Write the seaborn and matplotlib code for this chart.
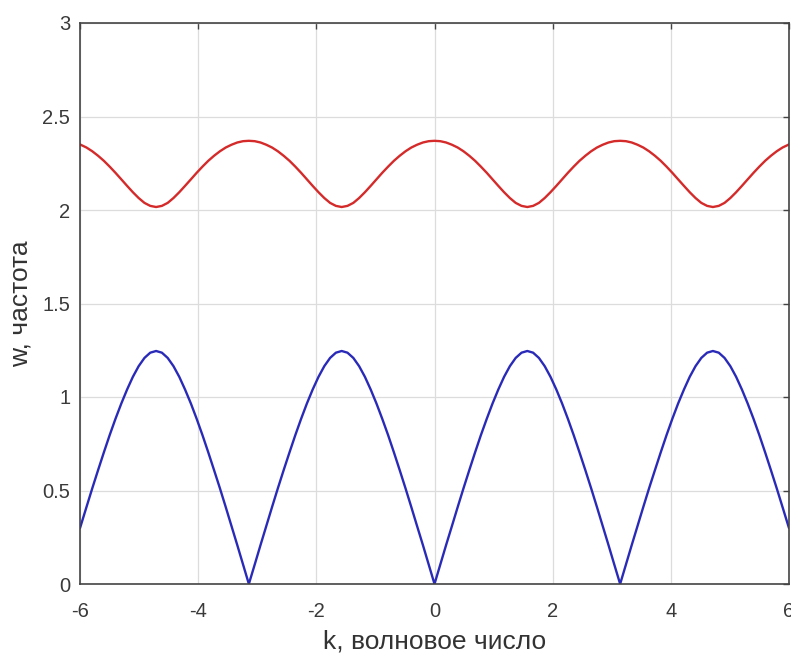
import matplotlib
matplotlib.use("Agg")
import matplotlib.pyplot as plt
import seaborn as sns
import pandas as pd

# wave number samples (step pi/32, plus the window edges at +-6)
k_values = [
    -6.000,
    -5.989, -5.890, -5.792, -5.694, -5.596, -5.498, -5.400, -5.301, -5.203, -5.105,
    -5.007, -4.909, -4.811, -4.712, -4.614, -4.516, -4.418, -4.320, -4.222, -4.123,
    -4.025, -3.927, -3.829, -3.731, -3.632, -3.534, -3.436, -3.338, -3.240, -3.142,
    -3.043, -2.945, -2.847, -2.749, -2.651, -2.553, -2.454, -2.356, -2.258, -2.160,
    -2.062, -1.963, -1.865, -1.767, -1.669, -1.571, -1.473, -1.374, -1.276, -1.178,
    -1.080, -0.982, -0.884, -0.785, -0.687, -0.589, -0.491, -0.393, -0.295, -0.196,
    -0.098,
    0.000,
    0.098, 0.196, 0.295, 0.393, 0.491, 0.589, 0.687, 0.785, 0.884, 0.982,
    1.080, 1.178, 1.276, 1.374, 1.473, 1.571, 1.669, 1.767, 1.865, 1.963,
    2.062, 2.160, 2.258, 2.356, 2.454, 2.553, 2.651, 2.749, 2.847, 2.945,
    3.043, 3.142, 3.240, 3.338, 3.436, 3.534, 3.632, 3.731, 3.829, 3.927,
    4.025, 4.123, 4.222, 4.320, 4.418, 4.516, 4.614, 4.712, 4.811, 4.909,
    5.007, 5.105, 5.203, 5.301, 5.400, 5.498, 5.596, 5.694, 5.792, 5.890,
    5.989,
    6.000,
]

# acoustic branch, w(k)
w_acoustic = [
    0.299,
    0.310, 0.412, 0.512, 0.609, 0.704, 0.796, 0.883, 0.965, 1.040, 1.108,
    1.165, 1.209, 1.237, 1.246, 1.237, 1.209, 1.165, 1.108, 1.040, 0.965,
    0.883, 0.796, 0.704, 0.609, 0.512, 0.412, 0.310, 0.208, 0.104, 0.000,
    0.104, 0.208, 0.310, 0.412, 0.512, 0.609, 0.704, 0.796, 0.883, 0.965,
    1.040, 1.108, 1.165, 1.209, 1.237, 1.246, 1.237, 1.209, 1.165, 1.108,
    1.040, 0.965, 0.883, 0.796, 0.704, 0.609, 0.512, 0.412, 0.310, 0.208,
    0.104,
    0.000,
    0.104, 0.208, 0.310, 0.412, 0.512, 0.609, 0.704, 0.796, 0.883, 0.965,
    1.040, 1.108, 1.165, 1.209, 1.237, 1.246, 1.237, 1.209, 1.165, 1.108,
    1.040, 0.965, 0.883, 0.796, 0.704, 0.609, 0.512, 0.412, 0.310, 0.208,
    0.104, 0.000, 0.104, 0.208, 0.310, 0.412, 0.512, 0.609, 0.704, 0.796,
    0.883, 0.965, 1.040, 1.108, 1.165, 1.209, 1.237, 1.246, 1.237, 1.209,
    1.165, 1.108, 1.040, 0.965, 0.883, 0.796, 0.704, 0.609, 0.512, 0.412,
    0.310,
    0.299,
]

# optical branch, w(k)
w_optical = [
    2.351,
    2.349, 2.334, 2.314, 2.290, 2.263, 2.232, 2.199, 2.164, 2.129, 2.095,
    2.064, 2.038, 2.022, 2.016, 2.022, 2.038, 2.064, 2.095, 2.129, 2.164,
    2.199, 2.232, 2.263, 2.290, 2.314, 2.334, 2.349, 2.361, 2.368, 2.370,
    2.368, 2.361, 2.349, 2.334, 2.314, 2.290, 2.263, 2.232, 2.199, 2.164,
    2.129, 2.095, 2.064, 2.038, 2.022, 2.016, 2.022, 2.038, 2.064, 2.095,
    2.129, 2.164, 2.199, 2.232, 2.263, 2.290, 2.314, 2.334, 2.349, 2.361,
    2.368,
    2.370,
    2.368, 2.361, 2.349, 2.334, 2.314, 2.290, 2.263, 2.232, 2.199, 2.164,
    2.129, 2.095, 2.064, 2.038, 2.022, 2.016, 2.022, 2.038, 2.064, 2.095,
    2.129, 2.164, 2.199, 2.232, 2.263, 2.290, 2.314, 2.334, 2.349, 2.361,
    2.368, 2.370, 2.368, 2.361, 2.349, 2.334, 2.314, 2.290, 2.263, 2.232,
    2.199, 2.164, 2.129, 2.095, 2.064, 2.038, 2.022, 2.016, 2.022, 2.038,
    2.064, 2.095, 2.129, 2.164, 2.199, 2.232, 2.263, 2.290, 2.314, 2.334,
    2.349,
    2.351,
]

x_ticks = [-6, -4, -2, 0, 2, 4, 6]
y_ticks = [0, 0.5, 1, 1.5, 2, 2.5, 3]
y_ticklabels = ["0", "0.5", "1", "1.5", "2", "2.5", "3"]

sns.set_style("white")
plt.rcParams["font.family"] = ["Liberation Sans", "DejaVu Sans"]

df = pd.DataFrame({"k": k_values, "acoustic": w_acoustic, "optical": w_optical})

fig = plt.figure(figsize=(7.91, 6.55), dpi=100)
ax = fig.add_axes([80 / 791, 71 / 655, 709 / 791, 561 / 655])

sns.lineplot(data=df, x="k", y="optical", ax=ax, color="#d42a2a", linewidth=1.7)
sns.lineplot(data=df, x="k", y="acoustic", ax=ax, color="#2a2ab8", linewidth=1.7)

ax.set_xlim(-6, 6)
ax.set_ylim(0, 3)
ax.set_xticks(x_ticks)
ax.set_xticklabels([str(t) for t in x_ticks])
ax.set_yticks(y_ticks)
ax.set_yticklabels(y_ticklabels)

ax.grid(True, color="#dcdcdc", linewidth=0.9)
ax.set_axisbelow(True)
for side in ["top", "right", "bottom", "left"]:
    ax.spines[side].set_visible(True)
    ax.spines[side].set_color("#444444")
    ax.spines[side].set_linewidth(1.2)

ax.tick_params(direction="in", length=4, width=1, colors="#444444",
               labelsize=14.5, labelcolor="#3a3a3a",
               top=True, right=True)
ax.tick_params(axis="x", pad=13)
ax.tick_params(axis="y", pad=7)

ax.set_xlabel("k, волновое число", fontsize=19, color="#333333", labelpad=6)
ax.set_ylabel("w, частота", fontsize=19, color="#333333", labelpad=7)

fig.savefig("out.png", dpi=100, facecolor="white")
